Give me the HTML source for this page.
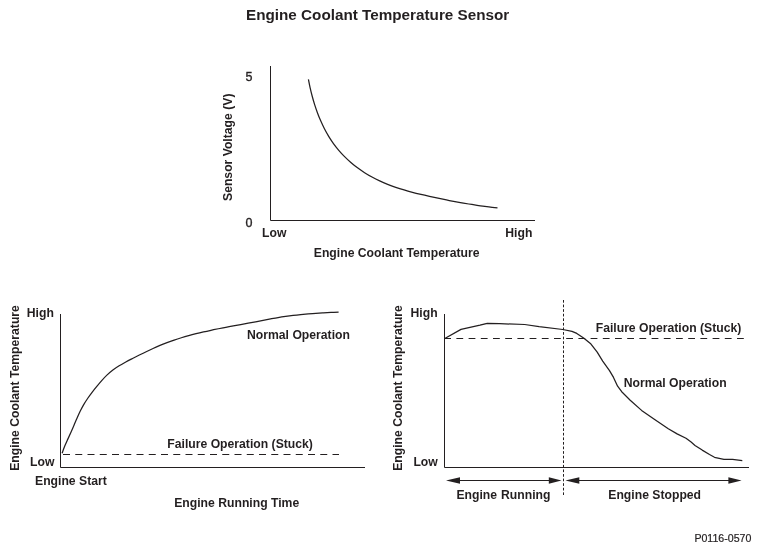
<!DOCTYPE html>
<html>
<head>
<meta charset="utf-8">
<style>
html,body{margin:0;padding:0;background:#fff;}
body{width:761px;height:551px;overflow:hidden;}
svg{display:block;will-change:transform;}
text{font-family:"Liberation Sans",sans-serif;fill:#231f20;}
.b{font-weight:bold;font-size:12.2px;}
.v{font-weight:bold;font-size:12.2px;}
.r{font-weight:normal;stroke:#231f20;stroke-width:0.35px;}
</style>
</head>
<body>
<svg width="761" height="551" viewBox="0 0 761 551">
<!-- Title -->
<text x="246" y="19.8" style="font-weight:bold;font-size:15.25px">Engine Coolant Temperature Sensor</text>

<!-- Chart 1 -->
<g stroke="#231f20" stroke-width="1" fill="none">
  <path d="M270.5 66 V220.5 H535"/>
  <path stroke-width="1.25" d="M308.41 79.33 C308.69 80.72 309.47 84.87 310.09 87.65 C310.71 90.44 311.39 93.24 312.14 96.03 C312.88 98.83 313.69 101.63 314.56 104.40 C315.44 107.18 316.39 109.95 317.41 112.69 C318.43 115.43 319.52 118.15 320.69 120.82 C321.86 123.49 323.11 126.14 324.44 128.72 C325.78 131.30 327.19 133.84 328.69 136.31 C330.19 138.78 331.78 141.19 333.46 143.53 C335.14 145.86 336.91 148.12 338.77 150.30 C340.62 152.48 342.56 154.59 344.58 156.62 C346.59 158.64 348.69 160.59 350.85 162.46 C353.01 164.33 355.24 166.12 357.53 167.83 C359.83 169.53 362.19 171.16 364.60 172.70 C367.01 174.24 369.48 175.70 372.00 177.07 C374.51 178.44 377.08 179.73 379.68 180.94 C382.29 182.15 384.94 183.27 387.62 184.33 C390.30 185.39 393.02 186.38 395.75 187.32 C398.49 188.25 401.27 189.12 404.05 189.95 C406.84 190.79 409.65 191.56 412.46 192.30 C415.28 193.05 418.12 193.74 420.95 194.42 C423.78 195.10 426.63 195.74 429.46 196.37 C432.30 197.00 435.13 197.61 437.96 198.21 C440.79 198.81 443.62 199.39 446.45 199.95 C449.27 200.51 452.10 201.05 454.92 201.58 C457.75 202.10 460.57 202.61 463.40 203.10 C466.22 203.58 469.05 204.05 471.88 204.49 C474.71 204.94 477.55 205.37 480.39 205.77 C483.23 206.17 486.07 206.55 488.92 206.91 C491.77 207.27 496.07 207.75 497.49 207.92"/>
</g>
<text x="245.5" y="81" class="r" style="font-size:12.5px">5</text>
<text x="245.5" y="226.7" class="r" style="font-size:12.5px">0</text>
<text x="262" y="236.8" class="b">Low</text>
<text x="505.3" y="236.8" class="b">High</text>
<text x="313.8" y="257" class="b">Engine Coolant Temperature</text>
<text class="v" transform="translate(231.9,201) rotate(-90)">Sensor Voltage (V)</text>

<!-- Chart 2 -->
<g stroke="#231f20" stroke-width="1" fill="none">
  <path d="M60.5 314 V467.5 H365"/>
  <path d="M63 454.5 H339" stroke-dasharray="7 5.25"/>
  <path stroke-width="1.25" d="M62.08 453.19 C62.53 452.00 63.81 448.42 64.76 446.07 C65.72 443.73 66.78 441.44 67.82 439.13 C68.85 436.82 69.93 434.53 70.96 432.21 C71.99 429.90 73.01 427.57 74.01 425.24 C75.02 422.91 75.98 420.55 77.00 418.23 C78.02 415.90 79.03 413.57 80.15 411.30 C81.27 409.04 82.44 406.80 83.71 404.63 C84.98 402.45 86.36 400.34 87.78 398.25 C89.21 396.17 90.72 394.14 92.26 392.12 C93.80 390.10 95.40 388.12 97.01 386.16 C98.62 384.19 100.23 382.21 101.92 380.33 C103.62 378.44 105.33 376.57 107.16 374.84 C108.99 373.11 110.88 371.46 112.88 369.94 C114.88 368.42 117.00 367.05 119.15 365.73 C121.30 364.40 123.54 363.20 125.77 361.98 C128.00 360.77 130.26 359.62 132.52 358.46 C134.78 357.30 137.06 356.17 139.33 355.05 C141.61 353.92 143.88 352.80 146.17 351.71 C148.45 350.62 150.74 349.54 153.04 348.50 C155.34 347.45 157.65 346.43 159.98 345.45 C162.31 344.48 164.65 343.53 167.02 342.63 C169.38 341.73 171.76 340.88 174.15 340.07 C176.55 339.25 178.96 338.48 181.38 337.73 C183.81 336.99 186.25 336.29 188.69 335.62 C191.14 334.94 193.60 334.30 196.06 333.68 C198.53 333.07 201.00 332.48 203.48 331.91 C205.95 331.34 208.44 330.80 210.92 330.27 C213.40 329.75 215.89 329.24 218.37 328.75 C220.86 328.25 223.34 327.77 225.83 327.30 C228.31 326.83 230.80 326.37 233.28 325.91 C235.77 325.45 238.25 325.00 240.73 324.55 C243.22 324.09 245.70 323.64 248.19 323.18 C250.67 322.72 253.16 322.25 255.65 321.78 C258.14 321.31 260.63 320.82 263.12 320.34 C265.61 319.87 268.10 319.39 270.60 318.93 C273.09 318.48 275.59 318.02 278.09 317.61 C280.59 317.19 283.10 316.80 285.61 316.43 C288.11 316.07 290.63 315.73 293.14 315.42 C295.65 315.11 298.17 314.83 300.69 314.57 C303.21 314.31 305.73 314.08 308.25 313.86 C310.78 313.64 313.30 313.45 315.83 313.27 C318.35 313.09 320.88 312.93 323.41 312.79 C325.94 312.64 328.47 312.52 331.00 312.40 C333.54 312.29 337.33 312.14 338.60 312.09"/>
</g>
<text x="26.8" y="316.8" class="b">High</text>
<text x="30" y="466" class="b">Low</text>
<text x="35" y="485.2" class="b">Engine Start</text>
<text x="174.2" y="506.9" class="b">Engine Running Time</text>
<text x="247" y="338.8" class="b">Normal Operation</text>
<text x="167.3" y="447.7" class="b">Failure Operation (Stuck)</text>
<text class="v" transform="translate(18.6,470.8) rotate(-90)">Engine Coolant Temperature</text>

<!-- Chart 3 -->
<g stroke="#231f20" stroke-width="1" fill="none">
  <path d="M444.5 314 V467.5 H749"/>
  <path d="M444.2 338.5 H744" stroke-dasharray="6.8 5.4"/>
  <path d="M563.5 300 V495" stroke-dasharray="2.7 1.88"/>
  <path stroke-width="1.25" stroke-linejoin="round" d="M444.8 338.5 L461 329.4 L480 325.2 L487.2 323.3 L499.7 323.7 L524.7 324.5 L539.1 326.6 L562.8 329.5 L572 331.4 L576.8 333.4 L583.6 337.9 L590.4 343.4 L597.2 352.2 L602.7 361.1 L609.5 370.6 L613.5 377.4 L617.6 386.2 L621.7 391.7 L630.2 400.2 L641.6 410.4 L654.3 419.3 L668.3 428.8 L677.1 433.9 L686 438.3 L691.1 442.1 L695 445.4 L702.2 450.1 L709.5 454.5 L714.5 457.3 L723.9 459.4 L732.6 459.4 L742.3 460.7"/>
  <path d="M458 480.5 H550"/>
  <path d="M578 480.5 H730"/>
</g>
<g fill="#231f20">
  <path d="M446 480.5 L460 477.3 L460 483.8 Z"/>
  <path d="M561.5 480.5 L548.8 477.3 L548.8 483.8 Z"/>
  <path d="M565.4 480.5 L579.3 477.3 L579.3 483.8 Z"/>
  <path d="M741.6 480.5 L728.4 477.3 L728.4 483.8 Z"/>
</g>
<text x="410.5" y="317.4" class="b">High</text>
<text x="413.4" y="466" class="b">Low</text>
<text x="456.4" y="498.8" class="b" word-spacing="0.6">Engine Running</text>
<text x="608.3" y="498.8" class="b">Engine Stopped</text>
<text x="595.7" y="331.6" class="b">Failure Operation (Stuck)</text>
<text x="623.7" y="387" class="b">Normal Operation</text>
<text class="v" transform="translate(401.8,470.8) rotate(-90)">Engine Coolant Temperature</text>

<!-- footer -->
<text x="694.4" y="541.8" class="r" style="font-size:10.6px;stroke-width:0.2px">P0116-0570</text>
</svg>
</body>
</html>
